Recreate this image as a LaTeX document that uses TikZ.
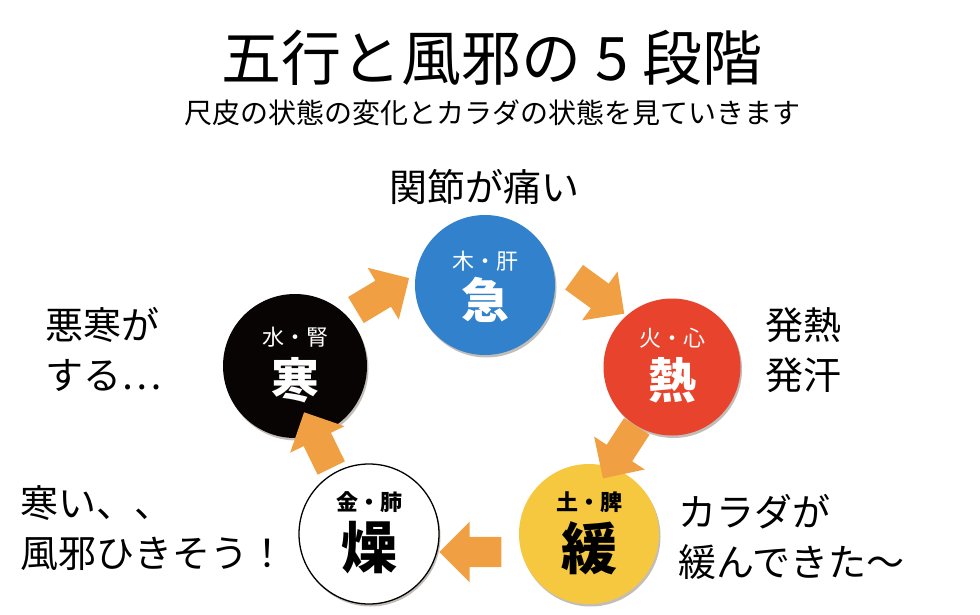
\documentclass[tikz,border=0pt]{standalone}
\usepackage{fontspec}
\setmainfont{Noto Sans CJK JP}
\usetikzlibrary{shapes.arrows,shadows}
\definecolor{cblue}{HTML}{3181CC}
\definecolor{cred}{HTML}{E8432C}
\definecolor{cyellow}{HTML}{F6C840}
\definecolor{cblack}{HTML}{080404}
\definecolor{corange}{HTML}{F0A042}
\newcommand{\fs}[2]{\fontsize{#1}{#2}\selectfont}
\begin{document}
\begin{tikzpicture}[x=1pt,y=-1pt,
  circ/.style={circle,inner sep=0pt,minimum size=140pt,
    drop shadow={shadow xshift=1.5pt,shadow yshift=-2.5pt,opacity=0.3,fill=black!70!brown}},
  blockarrow/.style={single arrow,fill=corange,draw=none,inner xsep=0pt,inner ysep=15pt,
    single arrow head extend=15pt,minimum height=62pt},
  smalllbl/.style={font=\fs{22}{26}},
  biglbl/.style={font=\fs{48}{52}\bfseries},
  bigbot/.style={font=\fs{56}{60}\bfseries},
  side/.style={font=\fs{38}{50},align=left,anchor=west,inner sep=0pt}]
\useasboundingbox[fill=white] (0,0) rectangle (980,615);
% title
\node[font=\fs{60}{66}] (title) at (492,58) {五行と風邪の 5 段階};
\node[font=\fs{28}{32}] (sub) at (492,113) {尺皮の状態の変化とカラダの状態を見ていきます};
\node[font=\fs{38}{44}] (tmoku) at (484,187) {関節が痛い};
% circles
\node[circ,fill=cblue] (moku) at (485,285) {};
\node[circ,fill=cred,minimum size=137pt] (ka) at (672,367) {};
\node[circ,fill=cyellow] (do) at (589,534) {};
\node[circ,fill=white,draw=black,line width=1.3pt] (kin) at (369,534) {};
\node[circ,fill=cblack,minimum size=144pt] (sui) at (295,366) {};
% circle labels
\node[smalllbl,text=white] (lmoku) at (485,261) {木・肝};
\node[biglbl,text=white] (bmoku) at (485,300) {急};
\node[smalllbl,text=white] (lka) at (672,338) {火・心};
\node[biglbl,text=white] (bka) at (672,380) {熱};
\node[smalllbl,text=white] (lsui) at (295,337) {水・腎};
\node[biglbl,text=white] (bsui) at (295,380) {寒};
\node[smalllbl,font=\fs{22}{26}\bfseries] (ldo) at (589,502) {土・脾};
\node[bigbot] (bdo) at (589,548) {緩};
\node[smalllbl,font=\fs{22}{26}\bfseries] (lkin) at (369,502) {金・肺};
\node[bigbot] (bkin) at (369,548) {燥};
% arrows
\node[blockarrow,rotate=31] (a1) at (376,298) {};
\node[blockarrow,rotate=-36] (a2) at (593,291) {};
\node[blockarrow,rotate=-123] (a3) at (624,446) {};
\node[blockarrow,rotate=180] (a4) at (478,552) {};
\node[blockarrow,rotate=116] (a5) at (321,447) {};
% side texts
\node[side] (tsui) at (45,349) {悪寒が\\する…};
\node[side] (tka) at (765,350) {発熱\\発汗};
\node[side] (tkin) at (20,528) {寒い、、\\風邪ひきそう！};
\node[side] (tdo) at (678,537) {カラダが\\緩んできた～};
\end{tikzpicture}
\end{document}
